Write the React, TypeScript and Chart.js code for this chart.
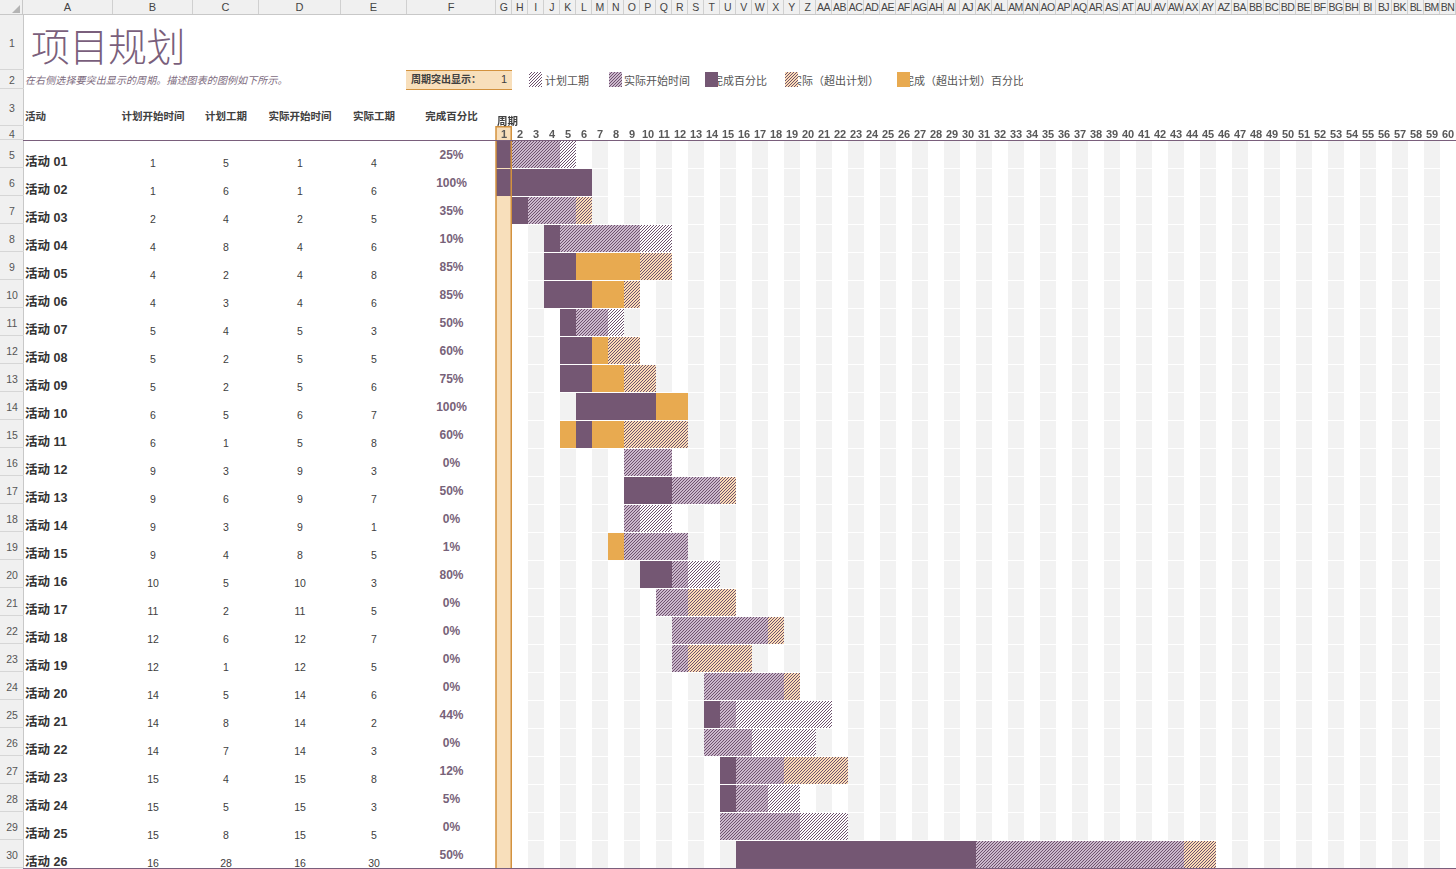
import React, { useEffect, useMemo, useRef } from 'react';
import { Chart, registerables } from 'chart.js';

Chart.register(...registerables);

// ---------------- data ----------------
const TITLE = '项目规划';
const SUBTITLE = '在右侧选择要突出显示的周期。描述图表的图例如下所示。';
const HIGHLIGHT_LABEL = '周期突出显示：';
const PERIOD_LABEL = '周期';
const HIGHLIGHT_PERIOD = 1;

const TABLE_HEADERS = ['活动', '计划开始时间', '计划工期', '实际开始时间', '实际工期', '完成百分比'];
const LEGEND_LABELS = ['计划工期', '实际开始时间', '完成百分比', '实际（超出计划）', '完成（超出计划）百分比'];

const ACTIVITIES = [
  '活动 01', '活动 02', '活动 03', '活动 04', '活动 05', '活动 06', '活动 07', '活动 08', '活动 09', '活动 10',
  '活动 11', '活动 12', '活动 13', '活动 14', '活动 15', '活动 16', '活动 17', '活动 18', '活动 19', '活动 20',
  '活动 21', '活动 22', '活动 23', '活动 24', '活动 25', '活动 26',
];
const PLAN_START = [1, 1, 2, 4, 4, 4, 5, 5, 5, 6, 6, 9, 9, 9, 9, 10, 11, 12, 12, 14, 14, 14, 15, 15, 15, 16];
const PLAN_DURATION = [5, 6, 4, 8, 2, 3, 4, 2, 2, 5, 1, 3, 6, 3, 4, 5, 2, 6, 1, 5, 8, 7, 4, 5, 8, 28];
const ACTUAL_START = [1, 1, 2, 4, 4, 4, 5, 5, 5, 6, 5, 9, 9, 9, 8, 10, 11, 12, 12, 14, 14, 14, 15, 15, 15, 16];
const ACTUAL_DURATION = [4, 6, 5, 6, 8, 6, 3, 5, 6, 7, 8, 3, 7, 1, 5, 3, 5, 7, 5, 6, 2, 3, 8, 3, 5, 30];
const PERCENT_COMPLETE = [25, 100, 35, 10, 85, 85, 50, 60, 75, 100, 60, 0, 50, 0, 1, 80, 0, 0, 0, 0, 44, 0, 12, 5, 0, 50];

const PERIODS = [
  1, 2, 3, 4, 5, 6, 7, 8, 9, 10, 11, 12, 13, 14, 15, 16, 17, 18, 19, 20,
  21, 22, 23, 24, 25, 26, 27, 28, 29, 30, 31, 32, 33, 34, 35, 36, 37, 38, 39, 40,
  41, 42, 43, 44, 45, 46, 47, 48, 49, 50, 51, 52, 53, 54, 55, 56, 57, 58, 59, 60,
];

const TABLE_COLUMN_LETTERS = ['A', 'B', 'C', 'D', 'E', 'F'];
const GANTT_COLUMN_LETTERS = [
  'G', 'H', 'I', 'J', 'K', 'L', 'M', 'N', 'O', 'P', 'Q', 'R', 'S', 'T', 'U', 'V', 'W', 'X', 'Y', 'Z',
  'AA', 'AB', 'AC', 'AD', 'AE', 'AF', 'AG', 'AH', 'AI', 'AJ', 'AK', 'AL', 'AM', 'AN', 'AO', 'AP', 'AQ', 'AR', 'AS', 'AT',
  'AU', 'AV', 'AW', 'AX', 'AY', 'AZ', 'BA', 'BB', 'BC', 'BD', 'BE', 'BF', 'BG', 'BH', 'BI', 'BJ', 'BK', 'BL', 'BM', 'BN',
];

// ---------------- style ----------------
const FONT = '"Liberation Sans", Arial, "Noto Sans CJK SC", sans-serif';
const PURPLE = '#745773';
const ORANGE = '#e8aa50';
const LAVENDER = '#cbb8cc';
const PEACH = '#fcdcb5';
const HATCH_INK = '#6e526e';
const STRIPE = '#f2f2f2';
const HL_FILL = '#f8dfbb';
const HL_BORDER = '#d3923e';
const RULE = '#7a5f7c';

const TABLE_COL_LEFT = [23, 113, 193, 259, 341, 407];
const TABLE_COL_WIDTH = [90, 80, 66, 82, 66, 89];
const GANTT_LEFT = 496;
const CELL_W = 16;
const ROW_TOP0 = 140;
const ROW_H = 28;
const HATCH_STEP = 3;

type Kind = 'done' | 'doneBeyond' | 'actual' | 'actualBeyond' | 'plan';
const KINDS: { key: Kind; label: string }[] = [
  { key: 'done', label: LEGEND_LABELS[2] },
  { key: 'doneBeyond', label: LEGEND_LABELS[4] },
  { key: 'actual', label: LEGEND_LABELS[1] },
  { key: 'actualBeyond', label: LEGEND_LABELS[3] },
  { key: 'plan', label: LEGEND_LABELS[0] },
];

function cellKind(i: number, p: number): Kind | null {
  const ps = PLAN_START[i];
  const pd = PLAN_DURATION[i];
  const st = ACTUAL_START[i];
  const du = ACTUAL_DURATION[i];
  const pc = PERCENT_COMPLETE[i];
  const inPlan = p >= ps && p < ps + pd;
  const inActual = p >= st && p < st + du;
  const doneEnd = Math.floor((st * 100 + du * pc) / 100);
  const done = inActual && pc > 0 && (p < doneEnd || p === st);
  if (done) return inPlan ? 'done' : 'doneBeyond';
  if (inActual) return inPlan ? 'actual' : 'actualBeyond';
  if (inPlan) return 'plan';
  return null;
}

function buildSegments() {
  const out: Record<Kind, { x: [number, number]; y: string }[]> = {
    done: [], doneBeyond: [], actual: [], actualBeyond: [], plan: [],
  };
  ACTIVITIES.forEach((name, i) => {
    let runKind: Kind | null = null;
    let runStart = 0;
    for (let k = 0; k <= PERIODS.length; k++) {
      const kind = k < PERIODS.length ? cellKind(i, PERIODS[k]) : null;
      if (kind !== runKind) {
        if (runKind) out[runKind].push({ x: [runStart - 0.5, PERIODS[k - 1] + 0.5], y: name });
        runKind = kind;
        runStart = k < PERIODS.length ? PERIODS[k] : 0;
      }
    }
  });
  return out;
}

function makeTile(bg: string, fg: string): HTMLCanvasElement {
  const n = HATCH_STEP;
  const c = document.createElement('canvas');
  c.width = n;
  c.height = n;
  const g = c.getContext('2d')!;
  g.fillStyle = bg;
  g.fillRect(0, 0, n, n);
  g.fillStyle = fg;
  for (let y = 0; y < n; y++) g.fillRect(n - 1 - y, y, 1, 1);
  return c;
}

const sheetPlugin = {
  id: 'sheetCells',
  beforeDraw(chart: any) {
    const { ctx, chartArea } = chart;
    const x = chart.scales.x;
    const y = chart.scales.y;
    ctx.save();
    ctx.fillStyle = STRIPE;
    for (let i = 0; i < ACTIVITIES.length; i++) {
      const cy = y.getPixelForValue(i);
      for (const p of PERIODS) {
        if (p % 2 === 1) {
          const x0 = x.getPixelForValue(p - 0.5);
          const x1 = x.getPixelForValue(p + 0.5);
          ctx.fillRect(x0, cy - 13.5, x1 - x0, 27);
        }
      }
    }
    const hx0 = x.getPixelForValue(HIGHLIGHT_PERIOD - 0.5);
    const hx1 = x.getPixelForValue(HIGHLIGHT_PERIOD + 0.5);
    const top = Math.floor(x.top);
    ctx.fillStyle = HL_FILL;
    ctx.fillRect(hx0, top, hx1 - hx0, chartArea.bottom - top);
    ctx.restore();
  },
  afterDatasetsDraw(chart: any) {
    const { ctx, chartArea } = chart;
    const x = chart.scales.x;
    const hx0 = x.getPixelForValue(HIGHLIGHT_PERIOD - 0.5);
    const hx1 = x.getPixelForValue(HIGHLIGHT_PERIOD + 0.5);
    const top = Math.floor(x.top);
    ctx.save();
    ctx.strokeStyle = HL_BORDER;
    ctx.lineWidth = 1.5;
    ctx.beginPath();
    ctx.moveTo(hx0, top);
    ctx.lineTo(hx0, chartArea.bottom);
    ctx.moveTo(hx1 - 0.75, top);
    ctx.lineTo(hx1 - 0.75, chartArea.bottom);
    ctx.moveTo(hx0 - 0.75, top + 0.75);
    ctx.lineTo(hx1, top + 0.75);
    ctx.stroke();
    ctx.restore();
  },
};

const abs = (left: number, top: number, width: number, height: number, extra: React.CSSProperties = {}): React.CSSProperties => ({
  position: 'absolute', left, top, width, height, boxSizing: 'border-box', ...extra,
});

export default function App() {
  const canvasRef = useRef<HTMLCanvasElement>(null);

  const tiles = useMemo(() => ({
    plan: makeTile('#ffffff', HATCH_INK),
    actual: makeTile(LAVENDER, HATCH_INK),
    actualBeyond: makeTile(PEACH, HATCH_INK),
  }), []);

  useEffect(() => {
    document.body.style.margin = '0';
    const canvas = canvasRef.current!;
    const ctx = canvas.getContext('2d')!;
    const fills: Record<Kind, any> = {
      done: PURPLE,
      doneBeyond: ORANGE,
      actual: ctx.createPattern(tiles.actual, 'repeat'),
      actualBeyond: ctx.createPattern(tiles.actualBeyond, 'repeat'),
      plan: ctx.createPattern(tiles.plan, 'repeat'),
    };
    const segments = buildSegments();
    const chart = new Chart(canvas, {
      type: 'bar',
      data: {
        labels: ACTIVITIES,
        datasets: KINDS.map((k) => ({
          label: k.label,
          data: segments[k.key] as any,
          backgroundColor: fills[k.key],
          borderWidth: 0,
          grouped: false,
          barThickness: 27,
          inflateAmount: 0,
        })) as any,
      },
      options: {
        indexAxis: 'y',
        responsive: false,
        animation: false,
        events: [],
        devicePixelRatio: 1,
        layout: { padding: { top: 14.5, left: 2, right: 0, bottom: 0.5 } },
        plugins: { legend: { display: false }, tooltip: { enabled: false } },
        scales: {
          x: {
            type: 'linear',
            position: 'top',
            min: 0.5,
            max: 60.5,
            grid: { display: false, drawTicks: false },
            border: { display: false },
            afterBuildTicks: (axis: any) => {
              axis.ticks = PERIODS.map((v) => ({ value: v }));
            },
            afterFit: (axis: any) => {
              axis.height = 14;
            },
            ticks: {
              autoSkip: false,
              maxRotation: 0,
              minRotation: 0,
              padding: -1,
              color: '#595959',
              font: { family: FONT, size: 11, weight: 'bold' },
              callback: (v: any) => String(v),
            },
          },
          y: { type: 'category', display: false, grid: { display: false } },
        },
      } as any,
      plugins: [sheetPlugin],
    });
    return () => chart.destroy();
  }, [tiles]);

  // row edges (spreadsheet rows 1..31)
  const rowEdges = [15, 70, 89, 126, 140];
  for (let r = 1; r <= ACTIVITIES.length + 1; r++) rowEdges.push(ROW_TOP0 + r * ROW_H);

  const legendItems = [
    { sw: 529, tx: 545, clip: 620, fill: `url(${tiles.plan.toDataURL()})` },
    { sw: 609, tx: 624, clip: 700, fill: `url(${tiles.actual.toDataURL()})` },
    { sw: 705, tx: 712, clip: 768, fill: PURPLE },
    { sw: 785, tx: 791, clip: 882, fill: `url(${tiles.actualBeyond.toDataURL()})` },
    { sw: 897, tx: 903, clip: 1023, fill: ORANGE },
  ];

  const textRow = (i: number) => ROW_TOP0 + i * ROW_H;

  return (
    <div style={abs(0, 0, 1456, 869, { overflow: 'hidden', background: '#fff', fontFamily: FONT, color: '#404040' })}>
      {/* column header bar */}
      <div style={abs(0, 0, 1456, 15, { background: '#f0f0f0', borderBottom: '1px solid #c8c8c8' })} />
      <div style={abs(0, 0, 23, 15, { borderRight: '1px solid #c8c8c8' })}>
        <div style={{ position: 'absolute', right: 2, bottom: 2, width: 0, height: 0, borderLeft: '8px solid transparent', borderBottom: '8px solid #b4b4b4' }} />
      </div>
      {TABLE_COLUMN_LETTERS.map((l, i) => (
        <div key={l} style={abs(TABLE_COL_LEFT[i], 0, TABLE_COL_WIDTH[i], 14, {
          borderRight: '1px solid #d0d0d0', textAlign: 'center', fontSize: 11, lineHeight: '14px', color: '#444',
        })}>{l}</div>
      ))}
      {GANTT_COLUMN_LETTERS.map((l, i) => (
        <div key={l} style={abs(GANTT_LEFT + i * CELL_W, 0, CELL_W, 14, {
          borderRight: '1px solid #d0d0d0', textAlign: 'center', fontSize: 10.5, lineHeight: '14px', color: '#444',
          overflow: 'hidden', whiteSpace: 'nowrap', letterSpacing: -0.6,
        })}>{l}</div>
      ))}

      {/* row header column */}
      <div style={abs(0, 15, 24, 854, { background: '#f0f0f0', borderRight: '1px solid #c8c8c8' })} />
      {rowEdges.slice(0, -1).map((top, i) => (
        <div key={i} style={abs(0, top, 24, rowEdges[i + 1] - top, {
          borderBottom: '1px solid #d6d6d6', textAlign: 'center', fontSize: 10.5, color: '#555',
          display: 'flex', alignItems: 'center', justifyContent: 'center', paddingTop: 2,
        })}>{i + 1}</div>
      ))}

      {/* title + subtitle */}
      <div style={abs(31, 24, 200, 40, {
        fontFamily: '"Noto Sans CJK SC", sans-serif', fontSize: 39, lineHeight: '40px', fontWeight: 300,
        color: '#7a5f7c', whiteSpace: 'nowrap', letterSpacing: -0.5,
      })}>{TITLE}</div>
      <div style={abs(25, 72, 380, 18, {
        fontSize: 10, lineHeight: '18px', fontStyle: 'italic', color: '#7d6b7e', whiteSpace: 'nowrap', letterSpacing: 0.1,
      })}>{SUBTITLE}</div>

      {/* highlight selector */}
      <div style={abs(406, 70, 106, 20, {
        background: HL_FILL, borderTop: `1.5px solid ${HL_BORDER}`, borderBottom: `1.5px solid ${HL_BORDER}`,
      })}>
        <span style={{ position: 'absolute', left: 5, top: 0, fontSize: 10, fontWeight: 'bold', lineHeight: '17px', color: '#404040' }}>{HIGHLIGHT_LABEL}</span>
        <span style={{ position: 'absolute', right: 5, top: 0, fontSize: 11, lineHeight: '17px', color: '#404040' }}>{HIGHLIGHT_PERIOD}</span>
      </div>

      {/* legend */}
      {legendItems.map((it, i) => (
        <React.Fragment key={i}>
          <div style={abs(it.tx, 72, it.clip - it.tx, 18, { overflow: 'hidden', whiteSpace: 'nowrap', fontSize: 11, lineHeight: '18px', color: '#555' })}>
            {LEGEND_LABELS[i]}
          </div>
          <div style={abs(it.sw, 72, 13, 15, { background: it.fill, zIndex: 2 })} />
        </React.Fragment>
      ))}

      {/* table headers */}
      {TABLE_HEADERS.map((h, i) => (
        <div key={h} style={abs(i === 0 ? 25 : TABLE_COL_LEFT[i], 107, i === 0 ? 80 : TABLE_COL_WIDTH[i], 18, {
          textAlign: i === 0 ? 'left' : 'center', fontSize: 10.5, fontWeight: 'bold', lineHeight: '18px', color: '#404040', whiteSpace: 'nowrap',
        })}>{h}</div>
      ))}
      <div style={abs(GANTT_LEFT + 1, 112, 40, 18, { fontSize: 10.5, fontWeight: 'bold', lineHeight: '18px', color: '#404040', zIndex: 3 })}>{PERIOD_LABEL}</div>

      {/* table body */}
      {ACTIVITIES.map((name, i) => {
        const top = textRow(i);
        const nums = [PLAN_START[i], PLAN_DURATION[i], ACTUAL_START[i], ACTUAL_DURATION[i]];
        return (
          <React.Fragment key={name}>
            <div style={abs(25, top + 13, 88, 18, { fontSize: 12.5, fontWeight: 'bold', lineHeight: '18px', color: '#333', whiteSpace: 'nowrap' })}>{name}</div>
            {nums.map((v, k) => (
              <div key={k} style={abs(TABLE_COL_LEFT[k + 1], top + 14, TABLE_COL_WIDTH[k + 1], 18, {
                textAlign: 'center', fontSize: 10.5, lineHeight: '18px', color: '#404040',
              })}>{v}</div>
            ))}
            <div style={abs(TABLE_COL_LEFT[5], top + 6, TABLE_COL_WIDTH[5], 18, {
              textAlign: 'center', fontSize: 12, fontWeight: 'bold', lineHeight: '18px', color: '#776279',
            })}>{PERCENT_COMPLETE[i]}%</div>
          </React.Fragment>
        );
      })}

      {/* gantt chart */}
      <canvas ref={canvasRef} width={962} height={757} style={{ position: 'absolute', left: GANTT_LEFT - 2, top: 112, width: 962, height: 757, zIndex: 1 }} />

      {/* header rule + bottom rule */}
      <div style={abs(23, 140, 1433, 1, { background: RULE, zIndex: 4 })} />
      <div style={abs(23, 868, 1433, 1, { background: RULE, zIndex: 4 })} />
    </div>
  );
}
